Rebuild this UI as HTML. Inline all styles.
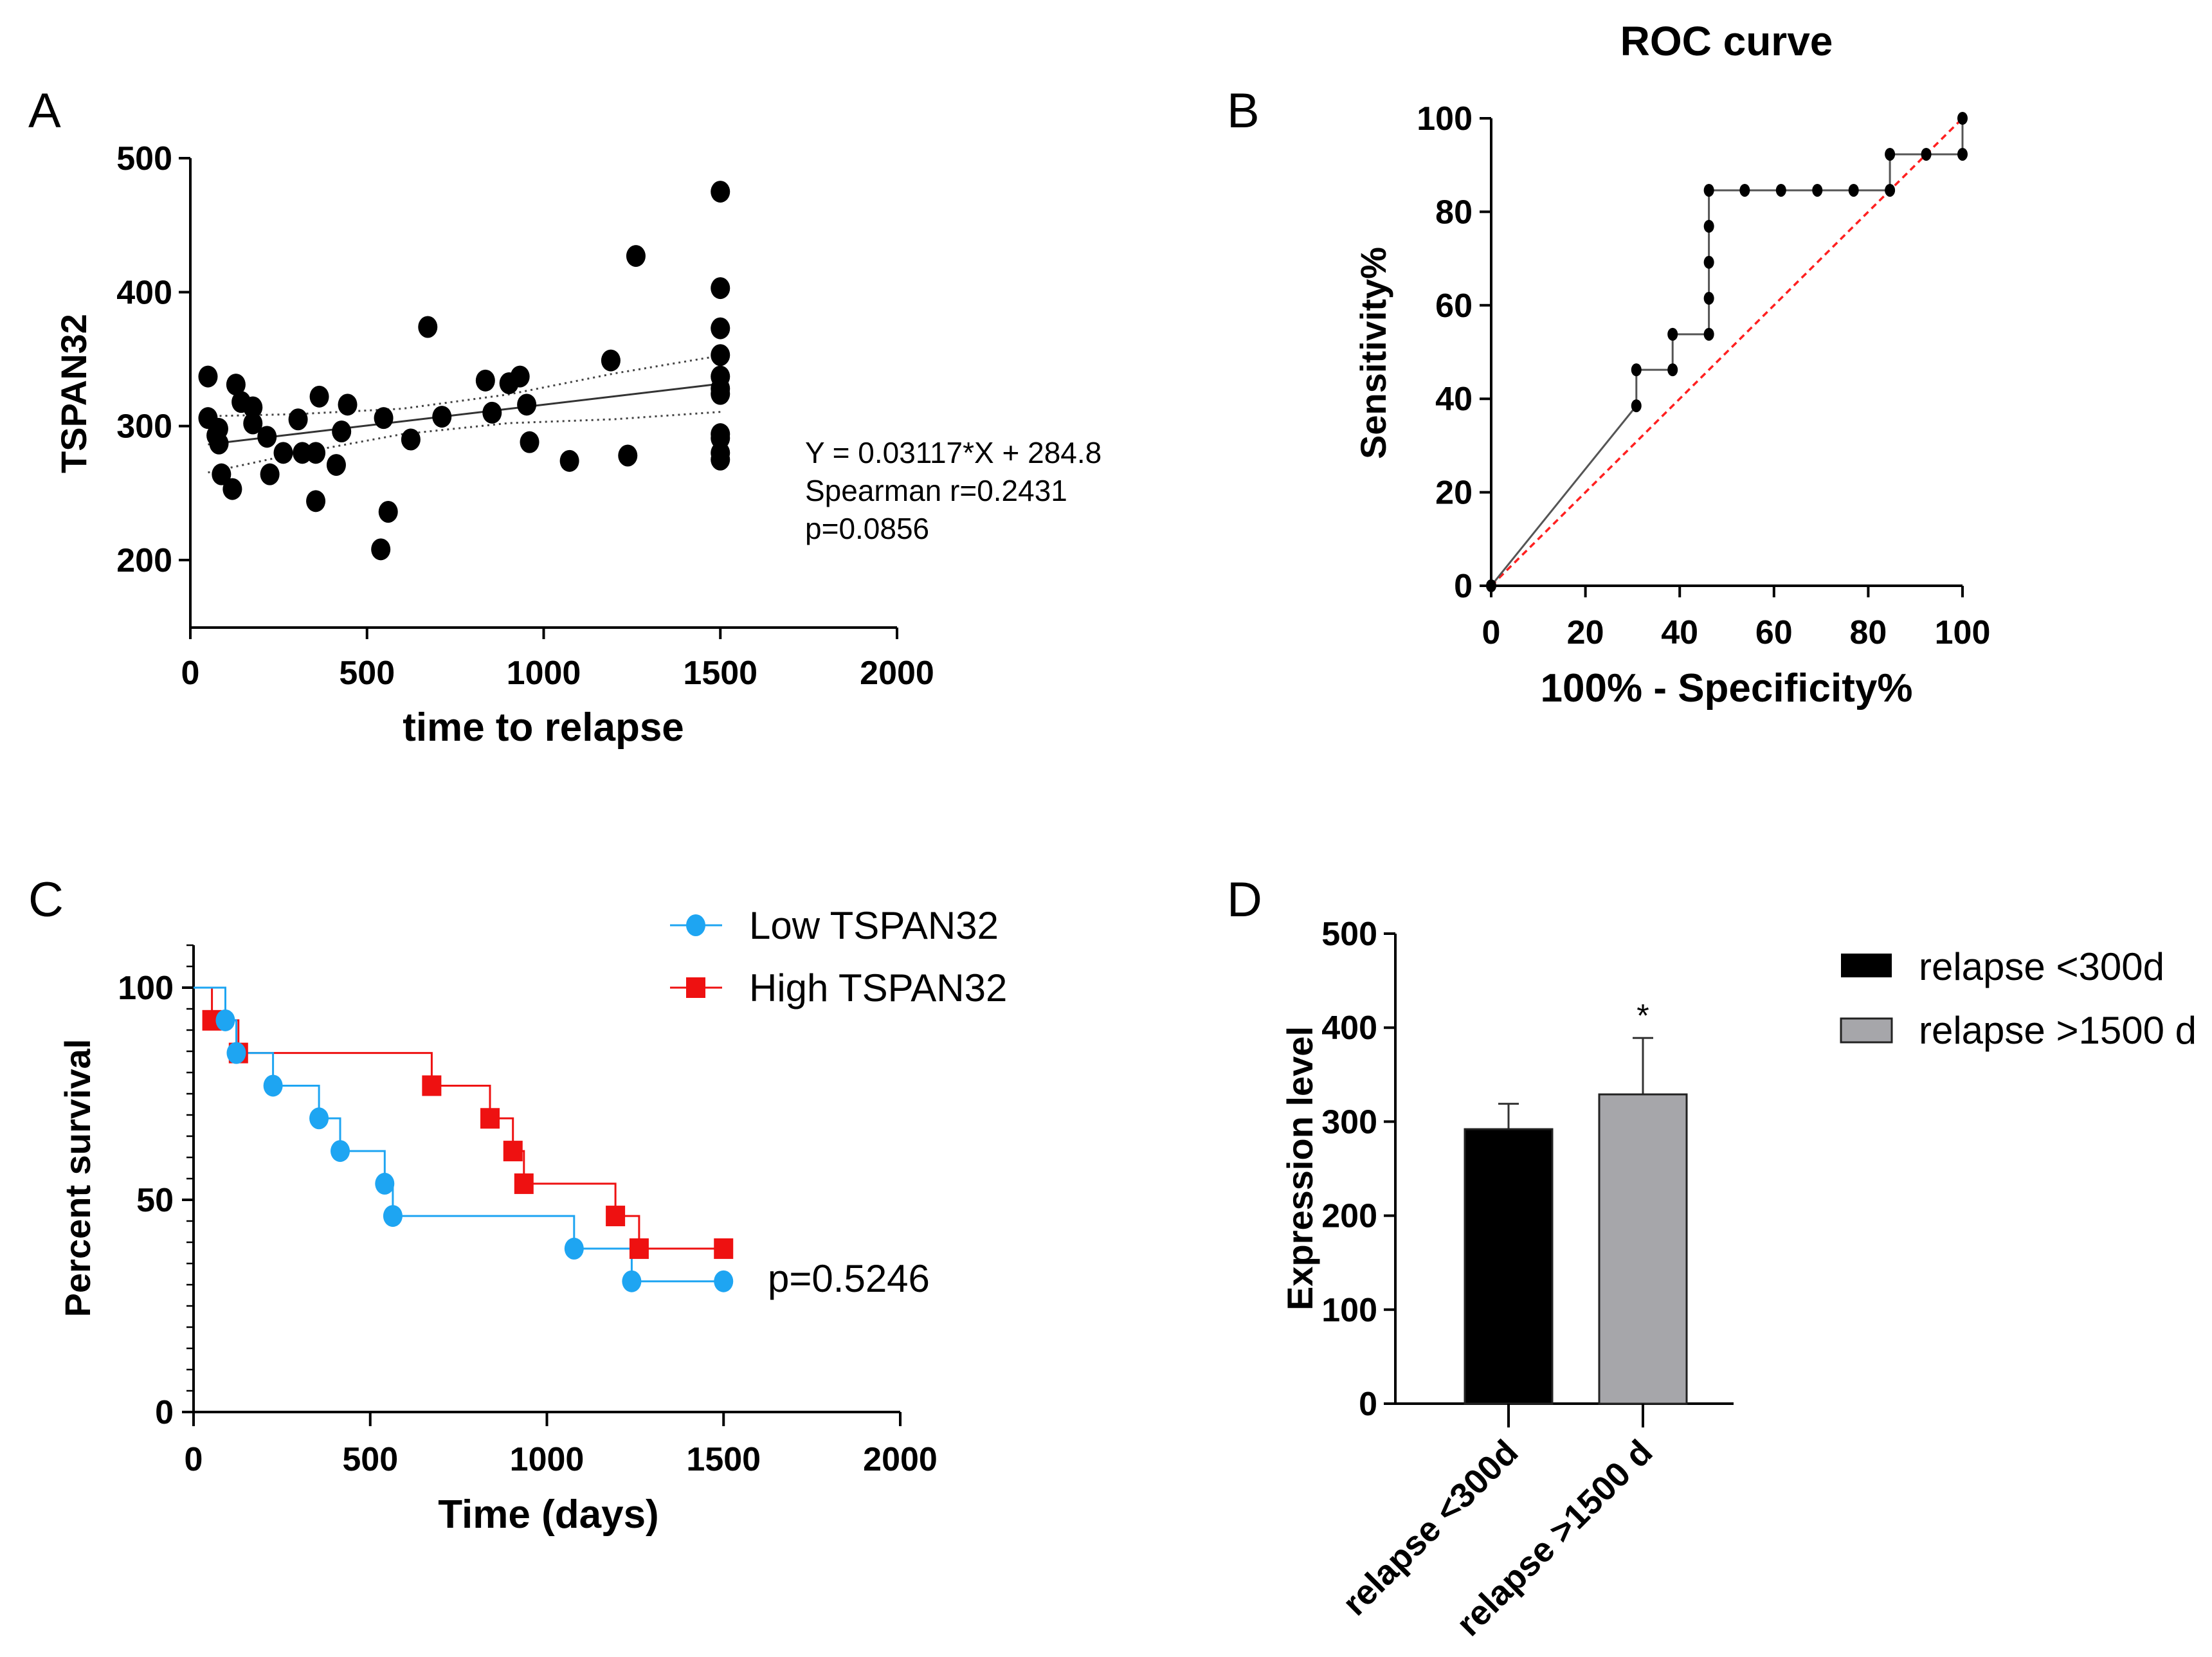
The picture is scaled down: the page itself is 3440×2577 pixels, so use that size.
<!DOCTYPE html>
<html><head><meta charset="utf-8"><style>
html,body{margin:0;padding:0;background:#fff}
svg{display:block}
text{font-family:"Liberation Sans",sans-serif;fill:#000}
.tk{font-family:"Liberation Sans Narrow","Liberation Sans",sans-serif;font-weight:bold;font-size:52px}
.lab{font-family:"Liberation Sans Narrow","Liberation Sans",sans-serif;font-weight:bold;font-size:62px}
.labw{font-weight:bold;font-size:56px}
.pl{font-size:76px}
.nr{font-family:"Liberation Sans Narrow","Liberation Sans",sans-serif;font-size:60px}
</style></head><body>
<svg id="fig" width="3440" height="2577" viewBox="0 0 3440 2577" xmlns="http://www.w3.org/2000/svg">
<text x="44" y="198" class="pl">A</text>
<text x="1908" y="198" class="pl">B</text>
<text x="44" y="1425" class="pl">C</text>
<text x="1908" y="1425" class="pl">D</text>
<g id="gA"></g>
<g id="gB"></g>
<g id="gC"></g>
<g id="gD"></g>
</svg>
<script>
// ---- Panel A data ----
const aX=[50,50,80,73,81,88,119,129,144,177,177,217,225,263,305,317,355,355,365,413,428,445,539,547,560,624,672,712,835,854,902,933,952,960,1073,1190,1238,1261,1500,1500,1500,1500,1500,1500,1500,1500,1500,1500,1500];
const aY=[337,306,298,293,287,264,253,331,318,314,302,292,264,280,305,280,280,244,322,271,296,316,208,306,236,290,374,307,334,310,332,337,316,288,274,349,278,427,475,403,373,353,337,328,324,294,291,280,275];
const aSlope=0.03117, aIntercept=284.8;
const aCiX=[50,300,600,900,1200,1500];
const aCiUpper=[307.4,308.9,313,323.6,339.3,352.6];
const aCiLower=[265.4,279.5,294,302.2,305.1,310.6];
const aXTicks=[0,500,1000,1500,2000];
const aYTicks=[200,300,400,500];
// ---- Panel B data ----
const rocX=[0,30.8,30.8,38.5,38.5,46.2,46.2,46.2,46.2,46.2,53.8,61.5,69.2,76.9,84.6,84.6,92.3,100,100];
const rocY=[0,38.5,46.2,46.2,53.8,53.8,61.5,69.2,76.9,84.6,84.6,84.6,84.6,84.6,84.6,92.3,92.3,92.3,100];
const bTicks=[0,20,40,60,80,100];
// ---- Panel C data ----
const lowT=[0,90,121,225,355,415,541,564,1077,1240,1500];
const lowS=[100,92.3,84.6,76.9,69.2,61.5,53.8,46.2,38.5,30.8,30.8];
const highT=[0,52,127,674,839,904,935,1194,1261,1500];
const highS=[100,92.3,84.6,76.9,69.2,61.5,53.8,46.2,38.5,38.5];
const cXTicks=[0,500,1000,1500,2000];
const cYTicks=[0,50,100];
// ---- Panel D data ----
const dCats=["relapse <300d","relapse >1500 d"];
const dMeans=[292,329];
const dErr=[27,60];
const dTicks=[0,100,200,300,400,500];

const NS="http://www.w3.org/2000/svg";
function el(p,t,a){const e=document.createElementNS(NS,t);for(const k in a)e.setAttribute(k,a[k]);p.appendChild(e);return e;}
function txt(p,x,y,s,cls,anchor,extra){const e=el(p,'text',Object.assign({x:x,y:y,'class':cls||'','text-anchor':anchor||'start'},extra||{}));e.textContent=s;return e;}

// ===== Panel A =====
(function(){
const g=document.getElementById('gA');
const X=v=>296+(v/2000)*1099, Y=v=>871-(v-200)/300*625;
const ax=el(g,'path',{d:`M296 246 V976 H1395`,stroke:'#000','stroke-width':4,fill:'none'});

aYTicks.forEach(v=>{const t=el(g,'line',{x1:278,x2:296,y1:Y(v),y2:Y(v),stroke:'#000','stroke-width':4});

const l=txt(g,268,Y(v)+18,String(v),'tk','end');});
aXTicks.forEach(v=>{const t=el(g,'line',{x1:X(v),x2:X(v),y1:976,y2:994,stroke:'#000','stroke-width':4});

const l=txt(g,X(v),1064,String(v),'tk','middle');});
const mk=(xs,ys)=>xs.map((x,i)=>`${i?'L':'M'}${X(x).toFixed(1)} ${Y(ys[i]).toFixed(1)}`).join(' ');
let u=el(g,'path',{d:mk(aCiX,aCiUpper),stroke:'#444','stroke-width':3,fill:'none','stroke-dasharray':'3 6'});

let lo=el(g,'path',{d:mk(aCiX,aCiLower),stroke:'#444','stroke-width':3,fill:'none','stroke-dasharray':'3 6'});

const x0=50,x1=1500;
let rl=el(g,'line',{x1:X(x0),y1:Y(aSlope*x0+aIntercept),x2:X(x1),y2:Y(aSlope*x1+aIntercept),stroke:'#333','stroke-width':3});

aX.forEach((x,i)=>{const c=el(g,'ellipse',{cx:X(x),cy:Y(aY[i]),rx:15,ry:17,fill:'#000'});
});
const yl=txt(g,0,0,'TSPAN32','labw','middle',{transform:'translate(134,612) rotate(-90)'});

const xl=txt(g,845,1152,'time to relapse','lab','middle');

['Y = 0.03117*X + 284.8','Spearman r=0.2431','p=0.0856'].forEach((s,i)=>{const t=txt(g,1252,720+i*59,s,'','start',{'font-size':'46'});
});
})();

// ===== Panel B =====
(function(){
const g=document.getElementById('gB');
const X=v=>2319+v/100*733, Y=v=>911-v/100*727;
const t0=txt(g,2685,86,'ROC curve','','middle',{'font-weight':'bold','font-size':'64'});

const ax=el(g,'path',{d:`M2319 184 V911 H3052`,stroke:'#000','stroke-width':4,fill:'none'});

bTicks.forEach(v=>{let t=el(g,'line',{x1:2301,x2:2319,y1:Y(v),y2:Y(v),stroke:'#000','stroke-width':4});

let l=txt(g,2290,Y(v)+18,String(v),'tk','end');
t=el(g,'line',{x1:X(v),x2:X(v),y1:911,y2:929,stroke:'#000','stroke-width':4});

l=txt(g,X(v),1001,String(v),'tk','middle');});
const d=el(g,'line',{x1:X(0),y1:Y(0),x2:X(100),y2:Y(100),stroke:'#ff2020','stroke-width':3.5,'stroke-dasharray':'10 7'});

const p=el(g,'path',{d:rocX.map((x,i)=>`${i?'L':'M'}${X(x).toFixed(1)} ${Y(rocY[i]).toFixed(1)}`).join(' '),stroke:'#555','stroke-width':3,fill:'none'});

rocX.forEach((x,i)=>{const c=el(g,'ellipse',{cx:X(x),cy:Y(rocY[i]),rx:8,ry:10,fill:'#000'});
});
const yl=txt(g,0,0,'Sensitivity%','labw','middle',{transform:'translate(2155,549) rotate(-90)'});

const xl=txt(g,2685,1091,'100% - Specificity%','lab','middle');

})();

// ===== Panel C =====
(function(){
const g=document.getElementById('gC');
const X=v=>301+v/2000*1099, Y=v=>2196-v/100*660;
const ax=el(g,'path',{d:`M301 ${Y(110)} V2196 H1400`,stroke:'#000','stroke-width':4,fill:'none'});

for(let v=0;v<=110;v+=5){const big=cYTicks.indexOf(v)>=0;const t=el(g,'line',{x1:big?283:290,x2:301,y1:Y(v),y2:Y(v),stroke:'#000','stroke-width':big?4:2.5});
}
cYTicks.forEach(v=>{const l=txt(g,270,Y(v)+18,String(v),'tk','end');});
cXTicks.forEach(v=>{const t=el(g,'line',{x1:X(v),x2:X(v),y1:2196,y2:2218,stroke:'#000','stroke-width':4});

const l=txt(g,X(v),2287,String(v),'tk','middle');});
function step(ts,ss){let d=`M${X(ts[0])} ${Y(ss[0])}`;for(let i=1;i<ts.length;i++){d+=` H${X(ts[i]).toFixed(1)} V${Y(ss[i]).toFixed(1)}`;}return d;}
const hp=el(g,'path',{d:step(highT,highS),stroke:'#ee1111','stroke-width':3,fill:'none'});

const lp=el(g,'path',{d:step(lowT,lowS),stroke:'#1ea5f2','stroke-width':3,fill:'none'});

highT.forEach((t,i)=>{if(i===0)return;const r=el(g,'rect',{x:X(t)-15,y:Y(highS[i])-16,width:30,height:32,fill:'#ee1111'});
});
lowT.forEach((t,i)=>{if(i===0)return;const c=el(g,'ellipse',{cx:X(t),cy:Y(lowS[i]),rx:15,ry:17,fill:'#1ea5f2'});
});
let l1=el(g,'line',{x1:1042,x2:1123,y1:1439,y2:1439,stroke:'#1ea5f2','stroke-width':3});
let c1=el(g,'ellipse',{cx:1082,cy:1439,rx:15,ry:17,fill:'#1ea5f2'});
let t1=txt(g,1165,1460,'Low TSPAN32','nr');
let l2=el(g,'line',{x1:1042,x2:1123,y1:1536,y2:1536,stroke:'#ee1111','stroke-width':3});
let r2=el(g,'rect',{x:1067,y:1520,width:30,height:32,fill:'#ee1111'});
let t2=txt(g,1165,1557,'High TSPAN32','nr');
let pv=txt(g,1194,2009,'p=0.5246','nr');
const yl=txt(g,0,0,'Percent survival','labw','middle',{transform:'translate(140,1832) rotate(-90)'});

const xl=txt(g,853,2376,'Time (days)','lab','middle');

})();

// ===== Panel D =====
(function(){
const g=document.getElementById('gD');
const Y=v=>2183-v/500*731;
const x0=2170,x1=2696,bw=136;
const band0=2346,bandStep=209;
const fills=['#000','#a6a6aa'];
const ax=el(g,'path',{d:`M${x0} 1452 V2183 H${x1}`,stroke:'#000','stroke-width':4,fill:'none'});

dTicks.forEach(v=>{const t=el(g,'line',{x1:x0-18,x2:x0,y1:Y(v),y2:Y(v),stroke:'#000','stroke-width':4});

const l=txt(g,x0-28,Y(v)+18,String(v),'tk','end');});
dCats.forEach((c,i)=>{const cx=band0+i*bandStep;
const e=el(g,'path',{d:`M${cx} ${Y(dMeans[i])} V${Y(dMeans[i]+dErr[i])} M${cx-16} ${Y(dMeans[i]+dErr[i])} H${cx+16}`,stroke:'#333','stroke-width':3,fill:'none'});

const b=el(g,'rect',{x:cx-bw/2,y:Y(dMeans[i]),width:bw,height:Y(0)-Y(dMeans[i]),fill:fills[i],stroke:'#222','stroke-width':3});

const t=el(g,'line',{x1:cx,x2:cx,y1:2183,y2:2220,stroke:'#000','stroke-width':4});

const l=txt(g,0,0,c,'','end',{transform:`translate(${cx+18},2262) rotate(-45)`,'font-size':'54','font-weight':'bold'});
});
const st=txt(g,band0+bandStep,Y(dMeans[1]+dErr[1])-18,'*','','middle',{'font-size':'50'});

const yl=txt(g,0,0,'Expression level','labw','middle',{transform:'translate(2041,1817) rotate(-90)'});

let s1=el(g,'rect',{x:2863,y:1483,width:79,height:37,fill:'#000'});
let a1=txt(g,2984,1524,'relapse <300d','nr');
let s2=el(g,'rect',{x:2863,y:1584,width:79,height:37,fill:'#a6a6aa',stroke:'#222','stroke-width':3});
let a2=txt(g,2984,1623,'relapse >1500 d','nr');
})();
</script>
</body></html>
